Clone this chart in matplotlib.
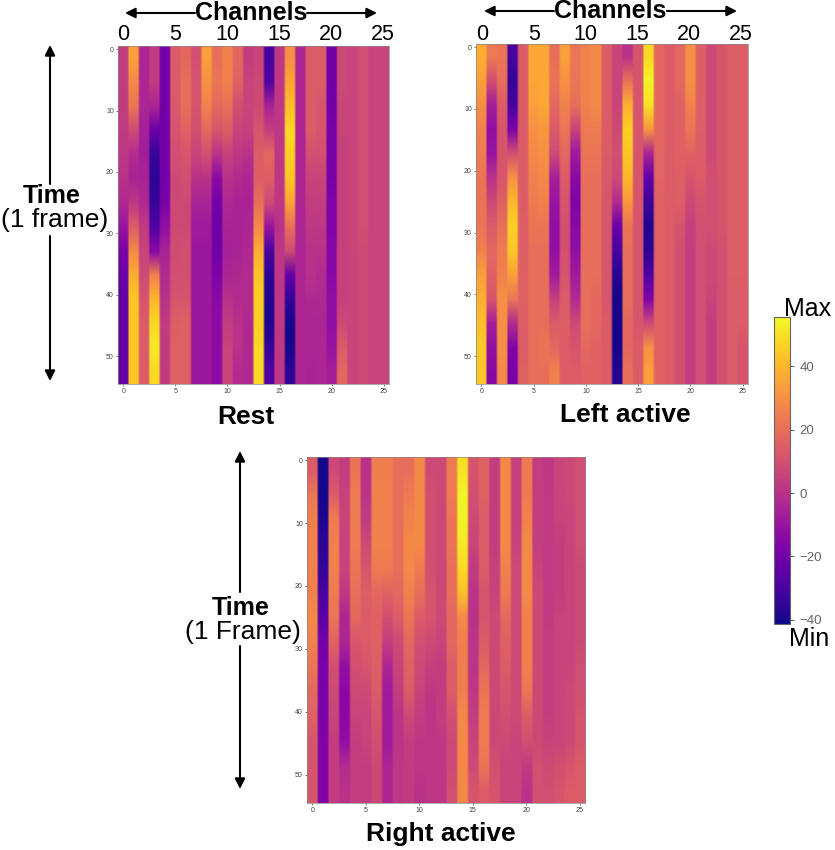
import numpy as np
import matplotlib
matplotlib.use("Agg")
import matplotlib.pyplot as plt
from matplotlib.cm import ScalarMappable
from matplotlib.colors import Normalize

plt.rcParams['font.family'] = ['Liberation Sans', 'DejaVu Sans']

W, H = 835, 850
VMIN, VMAX = -41.3, 55.5
channel_ticks = [0, 5, 10, 15, 20, 25]
time_ticks = [0, 10, 20, 30, 40, 50]
cbar_ticks = [-40, -20, 0, 20, 40]

# each list: one channel, values read at 14 evenly spaced times
rest = [
 [4,4,4,3,2,0,-3,-10,-18,-22,-24,-24,-24,-24],
 [34,28,22,8,-2,-5,2,15,28,38,44,44,44,44],
 [-4,-4,-4,-6,-7,-5,-3,3,6,8,12,14,14,14],
 [3,3,-5,-22,-34,-36,-34,-28,-14,26,40,48,52,48],
 [-20,-20,-20,-20,-20,-20,-18,-12,-5,-2,0,3,3,3],
 [14,14,13,12,10,8,8,8,9,10,12,15,16,16],
 [18,20,20,16,12,10,8,8,10,10,12,16,16,16],
 [10,12,12,10,6,0,-5,-8,-9,-9,-9,-9,-9,-9],
 [34,30,26,18,10,0,-5,-8,-9,-9,-9,-9,-9,-9],
 [20,22,18,12,0,-14,-20,-21,-20,-17,-14,-13,-13,-13],
 [26,26,20,14,5,0,-3,-5,-6,-4,0,4,6,6],
 [18,16,10,6,2,-2,-5,-5,-5,-3,-2,0,0,-2],
 [4,6,6,5,0,-4,-5,-4,-3,-2,-2,-3,-3,-3],
 [6,8,8,12,14,15,20,28,38,44,46,46,48,48],
 [-30,-28,-5,5,18,15,8,-10,-30,-36,-38,-38,-34,-28],
 [2,2,2,2,2,2,2,0,2,2,2,2,2,2],
 [30,36,42,48,46,44,35,20,8,-24,-35,-40,-40,-36],
 [-4,-4,-4,-4,-4,-4,-4,-4,-4,-4,-4,-4,-4,-4],
 [14,14,14,14,10,6,4,2,0,0,-3,-4,-4,-5],
 [14,14,12,12,10,6,4,2,0,-2,-3,-4,-4,-4],
 [-20,-20,-20,-18,-18,-18,-16,-16,-14,-14,-12,-12,-10,-6],
 [8,8,6,6,5,5,5,5,5,5,5,8,14,18],
 [6,6,6,6,6,6,6,6,6,6,6,6,6,6],
 [10,10,10,10,10,10,10,10,8,8,8,8,8,8],
 [6,6,6,6,6,6,6,6,6,6,6,6,6,6],
 [6,6,6,6,6,6,6,6,6,6,6,6,6,6],
]
left = [
 [38,34,30,26,24,22,22,22,26,34,38,42,44,44],
 [24,10,-6,-12,-10,0,8,14,18,16,12,-6,-12,-14],
 [22,20,14,12,12,12,16,20,24,26,30,30,30,28],
 [-30,-34,-30,-18,10,30,40,46,44,34,22,-2,-16,-18],
 [14,14,14,14,14,14,14,15,15,16,16,15,14,16],
 [36,36,34,30,28,26,24,22,20,20,20,20,20,20],
 [36,36,36,32,30,28,26,22,20,20,20,20,22,20],
 [20,22,18,14,8,-6,-10,-12,-12,-8,5,14,18,26],
 [34,30,26,22,18,14,12,10,10,12,14,15,14,14],
 [22,22,20,6,-8,-14,-16,-14,-12,-8,-2,8,12,14],
 [26,26,26,24,22,20,20,20,20,20,20,20,18,16],
 [28,28,28,24,22,20,20,20,20,20,18,18,16,16],
 [14,14,14,14,14,13,12,12,12,12,12,14,14,14],
 [6,6,6,8,10,8,-2,-22,-30,-37,-40,-40,-40,-38],
 [0,20,38,46,44,40,32,22,20,20,20,18,18,20],
 [12,12,12,12,12,12,12,12,12,12,12,12,14,14],
 [48,54,50,32,-5,-24,-32,-38,-36,-28,-16,8,30,34],
 [18,18,18,18,17,17,16,16,16,16,16,16,16,16],
 [14,14,14,14,14,14,14,14,14,14,14,14,14,14],
 [18,18,16,16,16,15,15,12,10,10,10,10,10,10],
 [30,30,26,22,16,12,8,5,4,4,4,4,4,4],
 [15,15,15,15,14,14,12,10,10,10,10,10,10,10],
 [8,8,8,8,8,10,10,10,8,8,6,4,4,4],
 [12,12,12,12,12,12,12,12,10,10,10,10,10,10],
 [15,15,15,15,15,15,15,15,15,15,14,14,14,14],
 [15,15,15,15,15,15,15,15,15,15,14,14,12,12],
]
right = [
 [14,22,26,26,26,26,28,26,22,18,16,12,12,12],
 [-40,-40,-38,-36,-34,-30,-26,-20,-18,-18,-18,-16,-16,-16],
 [8,14,24,26,26,24,22,16,10,8,6,4,4,4],
 [4,5,6,5,6,2,-4,-4,-12,-14,-14,-12,-2,0],
 [22,24,24,24,22,20,18,12,10,8,6,4,4,4],
 [0,1,3,8,12,15,14,14,12,8,6,6,4,4],
 [25,26,26,26,24,18,16,16,15,14,12,10,8,8],
 [25,26,26,26,24,16,10,4,-4,-8,-8,-8,-4,-4],
 [20,20,20,20,20,18,14,8,6,4,1,1,2,2],
 [20,24,26,28,28,26,22,18,16,14,8,4,4,4],
 [28,28,28,28,24,20,14,10,8,6,4,2,2,0],
 [8,10,10,10,10,12,12,8,5,2,1,2,2,2],
 [8,8,8,8,8,8,8,6,4,4,4,2,2,2],
 [24,24,22,22,20,20,18,18,14,14,10,8,8,10],
 [50,54,54,52,48,42,28,25,25,25,28,28,28,28],
 [12,10,8,6,3,1,0,1,1,2,4,6,8,12],
 [16,16,14,14,14,12,12,14,18,22,24,24,22,14],
 [4,4,4,4,5,6,8,8,8,8,8,8,10,12],
 [28,28,28,28,26,24,18,16,14,12,10,8,6,6],
 [5,5,5,6,8,8,8,8,8,8,8,6,6,6],
 [24,24,26,28,28,28,26,26,26,22,14,10,3,0],
 [4,4,4,4,6,8,8,8,8,8,8,8,10,10],
 [2,3,3,3,3,3,3,4,4,4,4,6,8,10],
 [6,6,6,4,4,4,6,6,6,6,6,6,10,12],
 [8,8,6,6,6,6,6,6,6,8,8,8,12,14],
 [10,10,10,10,8,8,8,8,10,10,12,12,14,14],
]

fig = plt.figure(figsize=(W / 100, H / 100), dpi=100, facecolor='white')


def px_axes(x0, y0, x1, y1):
    return fig.add_axes([x0 / W, 1 - y1 / H, (x1 - x0) / W, (y1 - y0) / H])


def ftext(x, y, s, **kw):
    kw.setdefault('ha', 'center')
    kw.setdefault('va', 'center')
    fig.text(x / W, 1 - y / H, s, color=kw.pop('color', 'black'), **kw)


def arrow(x0, y0, x1, y1):
    fig.add_artist(matplotlib.patches.FancyArrowPatch(
        (x0 / W, 1 - y0 / H), (x1 / W, 1 - y1 / H), transform=fig.transFigure,
        arrowstyle='-|>', mutation_scale=15, lw=1.5, color='black',
        shrinkA=0, shrinkB=0))


def heat(box, columns):
    ax = px_axes(*box)
    grid = np.array(columns, dtype=float).T
    grid = np.repeat(grid, 5, axis=1)
    ax.imshow(grid, cmap='plasma', vmin=VMIN, vmax=VMAX, aspect='auto',
              interpolation='bilinear', extent=(-0.5, 25.5, 54.5, -0.5))
    ax.set_xticks(channel_ticks)
    ax.set_yticks(time_ticks)
    ax.tick_params(labelsize=5, length=1.5, width=0.5, pad=1.5,
                   colors='#444444')
    for s in ax.spines.values():
        s.set_linewidth(0.5)
        s.set_color('#888888')
    return ax


heat((118, 46, 389, 384), rest)
heat((476, 44, 748, 384), left)
heat((307, 457, 585, 803), right)

# large channel numbers above the two upper panels
for x0, x25, y in [(123, 383, 35), (482, 741, 34)]:
    for c in channel_ticks:
        ftext(x0 + (x25 - x0) * c / 25, y, str(c), fontsize=15.5)

ftext(251, 13, 'Channels', fontsize=18, fontweight='bold')
ftext(610, 11, 'Channels', fontsize=18, fontweight='bold')
for a, b, y in [(195, 125, 13), (307, 377, 13), (554, 484, 11), (667, 737, 11)]:
    arrow(a, y, b, y)

ftext(52, 196, 'Time', fontsize=18, fontweight='bold')
ftext(55, 220, '(1 frame)', fontsize=19)
arrow(50, 184, 50, 45)
arrow(50, 236, 50, 381)

ftext(241, 608, 'Time', fontsize=18, fontweight='bold')
ftext(243, 632, '(1 Frame)', fontsize=19)
arrow(240, 592, 240, 451)
arrow(240, 646, 240, 789)

ftext(246, 417, 'Rest', fontsize=19, fontweight='bold')
ftext(625, 415, 'Left active', fontsize=19, fontweight='bold')
ftext(441, 834, 'Right active', fontsize=19, fontweight='bold')

cax = px_axes(774, 317, 790, 624)
cb = fig.colorbar(ScalarMappable(Normalize(VMIN, VMAX), 'plasma'), cax=cax)
cb.set_ticks(cbar_ticks)
cb.ax.tick_params(labelsize=9.5, length=3, width=0.8, colors='#666666', pad=4)
cb.outline.set_linewidth(0.8)
cb.outline.set_edgecolor('#666666')
ftext(808, 309, 'Max', fontsize=18)
ftext(809, 639, 'Min', fontsize=18)

fig.savefig('out.png', dpi=100, facecolor='white')
